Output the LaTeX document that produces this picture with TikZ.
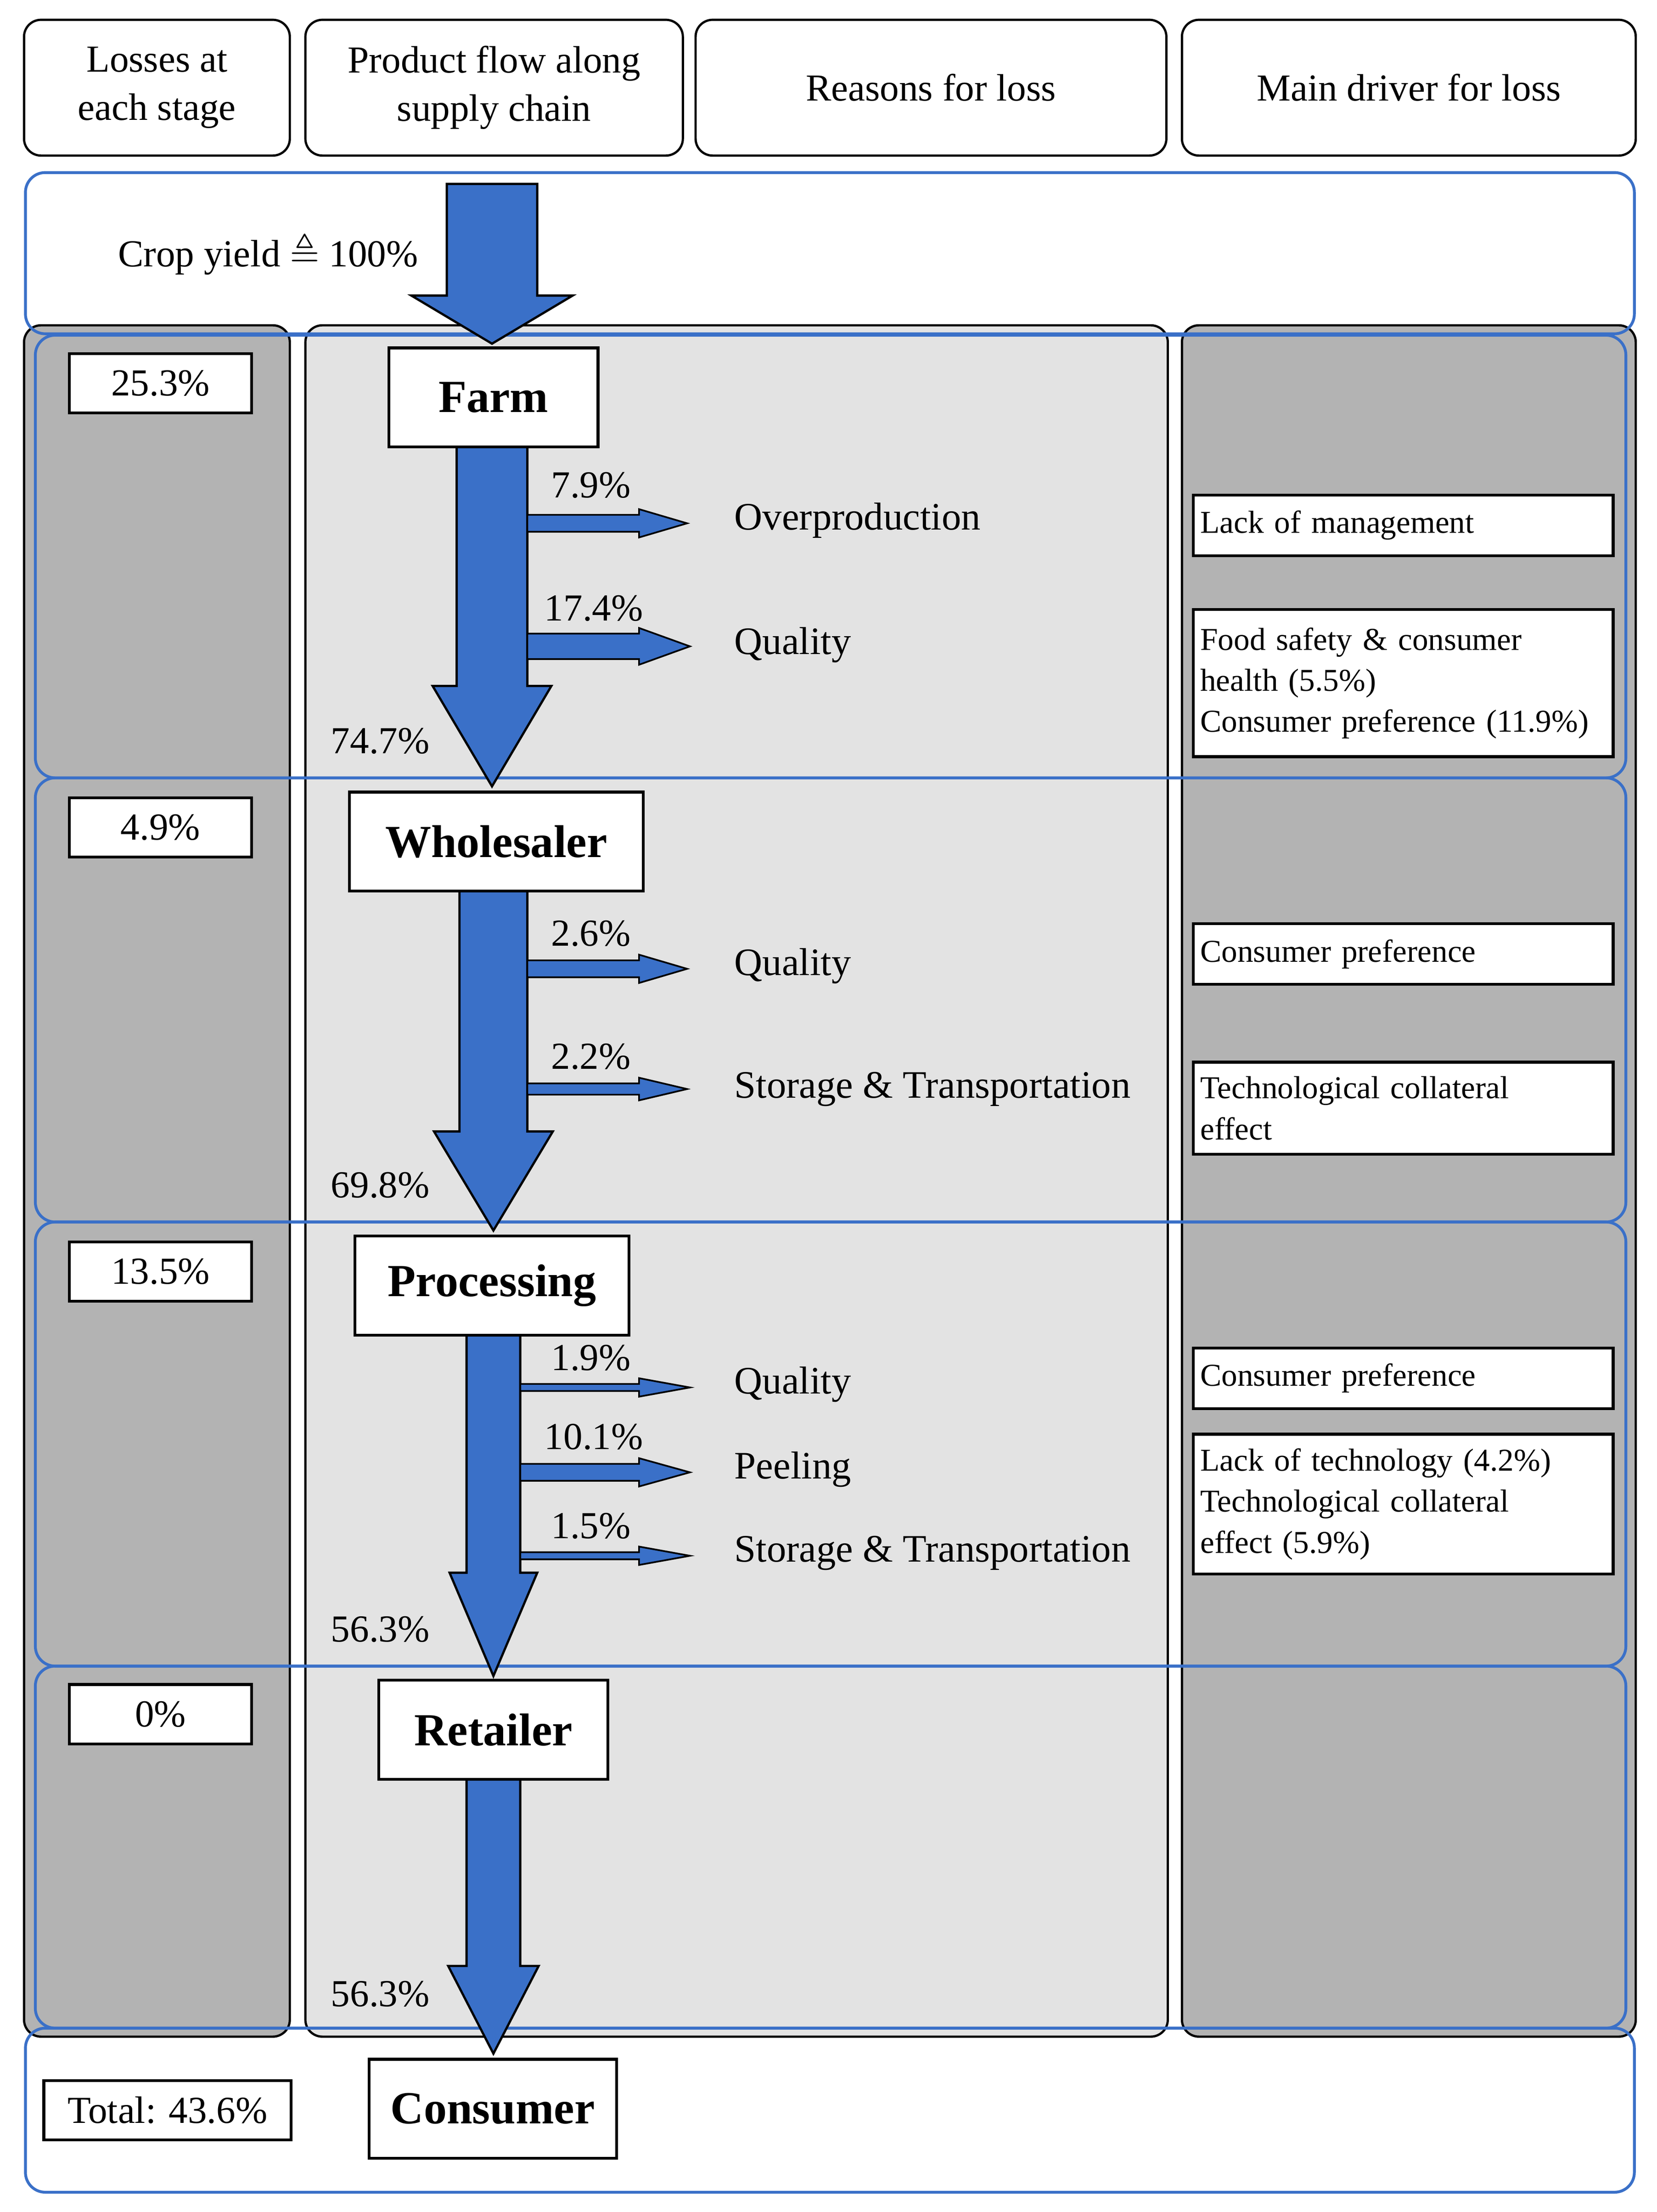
\documentclass[tikz,border=0pt]{standalone}
\usepackage{amssymb}
\usepackage{fontspec}
\setmainfont{Liberation Serif}
\definecolor{fb}{HTML}{3A70C8}
\definecolor{dg}{HTML}{B3B3B3}
\definecolor{lg}{HTML}{E3E3E3}
\newcommand\dnarrow[6]{% x, ytop, yneck, ytip, halfshaft, halfhead
\fill[fb,draw=black,line width=1.6pt] (#1-#5,#2)--(#1+#5,#2)--(#1+#5,#3)--(#1+#6,#3)--(#1,#4)--(#1-#6,#3)--(#1-#5,#3)--cycle;}
\newcommand\rtarrow[5]{% x0, y, xneck, xtip, halfshaft
\fill[fb,draw=black,line width=1.2pt] (#1,#2-#5)--(#3,#2-#5)--(#3,#2-#5-4)--(#4,#2)--(#3,#2+#5+4)--(#3,#2+#5)--(#1,#2+#5)--cycle;}
\begin{document}
\begin{tikzpicture}[x=1pt,y=-1pt,
 hdr/.style={draw,line width=1.6pt,rounded corners=12pt,align=center,font=\fontsize{27}{34}\selectfont},
 col/.style={draw,line width=1.6pt,rounded corners=12pt},
 blu/.style={draw=fb,line width=2pt,rounded corners=14pt},
 lbox/.style={draw,line width=2pt,fill=white,minimum width=129pt,minimum height=42pt,font=\fontsize{27}{30}\selectfont},
 stg/.style={draw,line width=2pt,fill=white,minimum height=70pt,font=\fontsize{32.5}{36}\selectfont\bfseries},
 drv/.style={draw,line width=2pt,fill=white,anchor=north west,minimum width=297pt,align=left,inner sep=5pt,text width=287pt,font=\fontsize{22.5}{29}\selectfont},
 pct/.style={font=\fontsize{27}{30}\selectfont},
 rsn/.style={font=\fontsize{27.5}{31}\selectfont,anchor=west}]
\useasboundingbox (0,0) rectangle (1172,1564);
\fill[white] (0,0) rectangle (1172,1564);
% headers
\node[hdr,minimum width=188pt,minimum height=96pt] (h1) at (111,62) {Losses at\\each stage};
\node[hdr,minimum width=267pt,minimum height=96pt] (h2) at (349.5,62) {Product flow along\\supply chain};
\node[hdr,minimum width=333pt,minimum height=96pt] (h3) at (658.5,62) {Reasons for loss};
\node[hdr,minimum width=321pt,minimum height=96pt] (h4) at (996.5,62) {Main driver for loss};
% columns
\draw[col,fill=dg] (17,230) rectangle (205,1440);
\draw[col,fill=lg] (216,230) rectangle (826,1440);
\draw[col,fill=dg] (836,230) rectangle (1157,1440);
% blue frames
\draw[blu] (18,122) rectangle (1156,236);
\draw[blu] (25,237) rectangle (1150,550);
\draw[blu] (25,550) rectangle (1150,864);
\draw[blu] (25,864) rectangle (1150,1178);
\draw[blu] (25,1178) rectangle (1150,1434);
\draw[blu] (18,1434) rectangle (1156,1550);
\node[pct,anchor=west] (cy) at (80,179) {Crop yield $\triangleq$ 100\%};
% loss boxes
\node[lbox] (l1) at (113.5,271) {25.3\%};
\node[lbox] (l2) at (113.5,585) {4.9\%};
\node[lbox] (l3) at (113.5,899) {13.5\%};
\node[lbox] (l4) at (113.5,1212) {0\%};
\node[lbox,minimum width=175pt] (lt) at (118.5,1492) {Total: 43.6\%};
% arrows
\dnarrow{348}{130}{209}{243}{32}{57}
\dnarrow{348}{316}{485}{556}{25}{42}
\dnarrow{349}{630}{800}{870}{24}{42}
\dnarrow{349}{944}{1112}{1185}{19}{31}
\dnarrow{349}{1258}{1390}{1452}{19}{32}
\rtarrow{373}{370}{452}{486}{6}
\rtarrow{373}{457}{452}{488}{9}
\rtarrow{373}{685}{452}{486}{6}
\rtarrow{373}{770}{452}{486}{4}
\rtarrow{368}{981}{452}{488}{2.5}
\rtarrow{368}{1041}{452}{488}{6}
\rtarrow{368}{1100}{452}{488}{2.5}
% stages
\node[stg,minimum width=148pt] (farm) at (349,281) {Farm};
\node[stg,minimum width=208pt] (whs) at (351,595) {Wholesaler};
\node[stg,minimum width=194pt] (proc) at (348,909) {Processing};
\node[stg,minimum width=162pt] (ret) at (349,1223) {Retailer};
\node[stg,minimum width=175pt] (con) at (348.5,1491) {Consumer};
% percents
\node[pct] (p1) at (418,343) {7.9\%};
\node[pct] (p2) at (420,430) {17.4\%};
\node[pct] (p3) at (418,660) {2.6\%};
\node[pct] (p4) at (418,747) {2.2\%};
\node[pct] (p5) at (418,960) {1.9\%};
\node[pct] (p6) at (420,1016) {10.1\%};
\node[pct] (p7) at (418,1079) {1.5\%};
\node[pct] (r1) at (269,524) {74.7\%};
\node[pct] (r2) at (269,838) {69.8\%};
\node[pct] (r3) at (269,1152) {56.3\%};
\node[pct] (r4) at (269,1410) {56.3\%};
% reasons
\node[rsn] (q1) at (516,368) {Overproduction};
\node[rsn] (q2) at (516,456) {Quality};
\node[rsn] (q3) at (516,683) {Quality};
\node[rsn] (q4) at (516,770) {Storage \& Transportation};
\node[rsn] (q5) at (516,979) {Quality};
\node[rsn] (q6) at (516,1039) {Peeling};
\node[rsn] (q7) at (516,1098) {Storage \& Transportation};
% drivers
\node[drv,minimum height=43pt] (d1) at (843,349) {Lack of management};
\node[drv,minimum height=104pt] (d2) at (843,430) {Food safety \& consumer\\health (5.5\%)\\Consumer preference (11.9\%)};
\node[drv,minimum height=43pt] (d3) at (843,652) {Consumer preference};
\node[drv,minimum height=65pt] (d4) at (843,750) {Technological collateral\\effect};
\node[drv,minimum height=43pt] (d5) at (843,952) {Consumer preference};
\node[drv,minimum height=99pt] (d6) at (843,1013) {Lack of technology (4.2\%)\\Technological collateral\\effect (5.9\%)};
\end{tikzpicture}
\end{document}
